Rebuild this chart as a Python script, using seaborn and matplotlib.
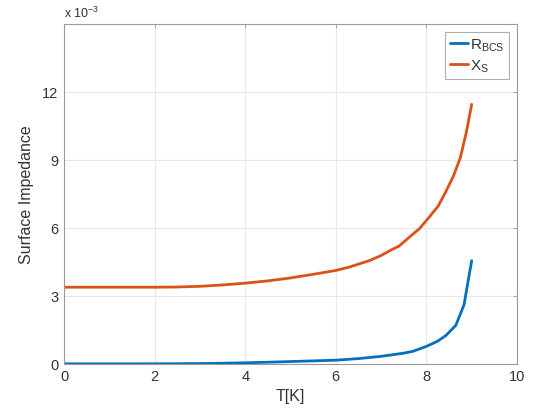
import matplotlib
matplotlib.use("Agg")
import matplotlib.pyplot as plt
import seaborn as sns
import pandas as pd

# Data (values in units of 1e-3)
T_r = [0, 0.5, 1, 1.5, 2, 2.5, 3, 3.5, 4, 4.5, 5, 5.5, 6, 6.5, 7, 7.5, 7.7, 8, 8.25, 8.43, 8.65, 8.83, 9.0]
R_bcs = [0, 0, 0, 0, 0.001, 0.005, 0.012, 0.025, 0.045, 0.07, 0.1, 0.13, 0.16, 0.23, 0.33, 0.47, 0.55, 0.77, 1.0, 1.25, 1.7, 2.6, 4.55]

T_x = [0, 1, 2, 2.5, 3, 3.5, 4, 4.5, 5, 5.5, 6, 6.3, 6.75, 7, 7.2, 7.4, 7.63, 7.85, 8.07, 8.26, 8.43, 8.6, 8.75, 8.88, 9.0]
X_s = [3.38, 3.38, 3.38, 3.39, 3.42, 3.48, 3.56, 3.66, 3.79, 3.95, 4.12, 4.27, 4.56, 4.78, 5.0, 5.2, 5.6, 5.97, 6.49, 6.96, 7.6, 8.3, 9.1, 10.2, 11.45]

x_ticks = [0, 2, 4, 6, 8, 10]
y_ticks = [0, 3, 6, 9, 12]

sns.set_theme(style="white")
plt.rcParams['font.family'] = ['Liberation Sans', 'DejaVu Sans']

fig = plt.figure(figsize=(5.41, 4.10), dpi=100)
ax = fig.add_axes([0.1183, 0.1102, 0.8373, 0.829])

df_r = pd.DataFrame({"T": T_r, "v": R_bcs})
df_x = pd.DataFrame({"T": T_x, "v": X_s})
sns.lineplot(data=df_r, x="T", y="v", ax=ax, color="#0072BD", linewidth=2.0,
             label=r"R$_{\mathregular{BCS}}$")
sns.lineplot(data=df_x, x="T", y="v", ax=ax, color="#D95319", linewidth=2.0,
             label=r"X$_{\mathregular{S}}$")

ax.set_xlim(0, 10)
ax.set_ylim(0, 15)
ax.set_xticks(x_ticks)
ax.set_yticks(y_ticks)
ax.set_xticklabels([str(t) for t in x_ticks])
ax.set_yticklabels([str(t) for t in y_ticks])

ax.grid(True, color="#e8e8e8", linewidth=0.8)
for s in ax.spines.values():
    s.set_color("#9a9a9a")
    s.set_linewidth(0.8)
ax.tick_params(direction="in", top=True, right=True, length=3, width=0.6,
               color="#9a9a9a", labelsize=10.5, labelcolor="#333333", pad=4)

ax.set_xlabel("T[K]", fontsize=11.5, color="#333333", labelpad=3)
ax.set_ylabel("Surface Impedance", fontsize=11.5, color="#333333", labelpad=6)

ax.text(0.0, 1.012, r"x 10$^{\mathregular{-3}}$", transform=ax.transAxes,
        fontsize=9, color="#333333", ha="left", va="bottom")

leg = ax.legend(loc="upper right", fontsize=11, frameon=True, fancybox=False,
                handlelength=1.2, handletextpad=0.15, borderpad=0.3,
                labelspacing=0.3, borderaxespad=0.5)
leg.get_frame().set_edgecolor("#9a9a9a")
leg.get_frame().set_linewidth(0.8)
for t in leg.get_texts():
    t.set_color("#333333")

fig.savefig("out.png", dpi=100, facecolor="white")
